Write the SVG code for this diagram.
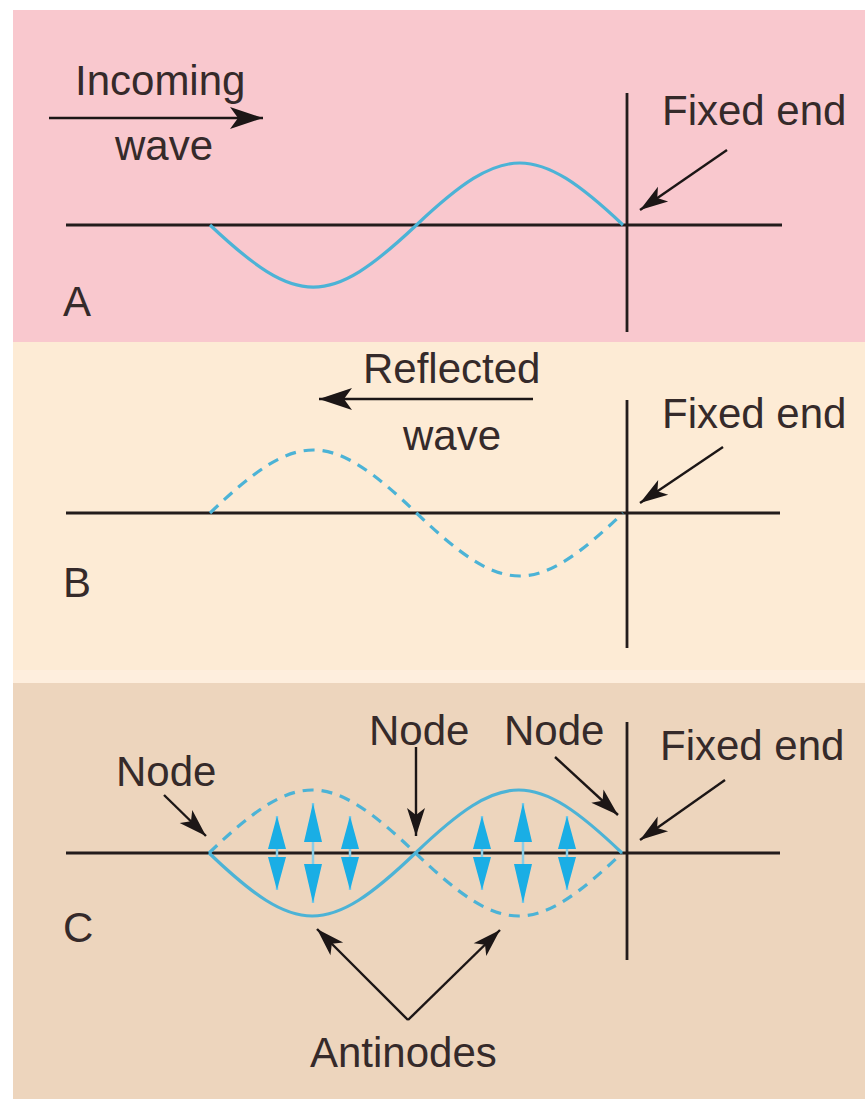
<svg xmlns="http://www.w3.org/2000/svg" width="865" height="1099" viewBox="0 0 865 1099">
<style>
text{font-family:"Liberation Sans",Arial,sans-serif;font-size:42px;fill:#352a2a}
.ax{stroke:#231c1c;stroke-width:2.8;fill:none}
.ar{stroke:#1c1616;stroke-width:2.4;fill:none}
.big{marker-end:url(#hb)}
.sm{marker-end:url(#hs)}
.wv{stroke:#4cb3d6;stroke-width:3.2;fill:none}
.dash{stroke-dasharray:11 8}
.bh{fill:#1aaee5}
.bs{stroke:#86cde9;stroke-width:2.5}
</style>
<defs>
<marker id="hb" markerUnits="userSpaceOnUse" viewBox="-34 -12 36 24" markerWidth="36" markerHeight="24" refX="0" refY="0" orient="auto">
<path d="M0,0 L-33,-11 L-25,0 L-33,11 Z" fill="#1c1616"/>
</marker>
<marker id="hs" markerUnits="userSpaceOnUse" viewBox="-30 -10 32 20" markerWidth="32" markerHeight="20" refX="0" refY="0" orient="auto">
<path d="M0,0 L-28,-9 L-21,0 L-28,9 Z" fill="#1c1616"/>
</marker>
</defs>

<g id="backgrounds">
<rect x="13" y="10" width="852" height="332" fill="#f9c8ce"/>
<rect x="13" y="342" width="852" height="341" fill="#fdebd5"/>
<rect x="13" y="670" width="852" height="13" fill="#feeedd"/>
<rect x="13" y="683" width="852" height="416" fill="#edd5bd"/>
</g>

<g id="panel-A">
<line class="ax" x1="66" y1="225" x2="782" y2="225"/>
<line class="ax" x1="627" y1="93" x2="627" y2="332"/>
<path id="wave-A" class="wv" d="M210,225 C297.6,307.7 328.9,307.7 416.5,225 C504.1,142.3 535.4,142.3 623,225"/>
<text x="75" y="95">Incoming</text>
<text x="115" y="160">wave</text>
<text x="662" y="125">Fixed end</text>
<text x="63" y="316">A</text>
</g>

<g id="panel-B">
<line class="ax" x1="66" y1="513" x2="780" y2="513"/>
<line class="ax" x1="627" y1="400" x2="627" y2="648"/>
<path id="wave-B" class="wv dash" d="M210,513 C297.6,429 328.9,429 416.5,513 C504.1,597 535.4,597 623,513"/>
<text x="363" y="383">Reflected</text>
<text x="403" y="450">wave</text>
<text x="662" y="428">Fixed end</text>
<text x="63" y="597">B</text>
</g>

<g id="panel-C">
<line class="ax" x1="66" y1="853" x2="780" y2="853"/>
<line class="ax" x1="627" y1="722" x2="627" y2="960"/>
<path id="wave-C-solid" class="wv" d="M209,853 C296.6,937 327.9,937 415.5,853 C503.1,769 534.4,769 622,853"/>
<path id="wave-C-dashed" class="wv dash" d="M209,853 C296.6,769 327.9,769 415.5,853 C503.1,937 534.4,937 622,853"/>
<g id="motion-arrows">
<line class="bs" x1="277" y1="816" x2="277" y2="890"/>
<polygon class="bh" points="277,816 268,849 286,849"/>
<polygon class="bh" points="277,890 268,857 286,857"/>
<line class="bs" x1="313" y1="803" x2="313" y2="903"/>
<polygon class="bh" points="313,803 304,842 322,842"/>
<polygon class="bh" points="313,903 304,864 322,864"/>
<line class="bs" x1="350" y1="816" x2="350" y2="890"/>
<polygon class="bh" points="350,816 341,849 359,849"/>
<polygon class="bh" points="350,890 341,857 359,857"/>
<line class="bs" x1="482" y1="816" x2="482" y2="890"/>
<polygon class="bh" points="482,816 473,849 491,849"/>
<polygon class="bh" points="482,890 473,857 491,857"/>
<line class="bs" x1="523" y1="803" x2="523" y2="903"/>
<polygon class="bh" points="523,803 514,842 532,842"/>
<polygon class="bh" points="523,903 514,864 532,864"/>
<line class="bs" x1="567" y1="816" x2="567" y2="890"/>
<polygon class="bh" points="567,816 558,849 576,849"/>
<polygon class="bh" points="567,890 558,857 576,857"/>
</g>
<text x="116" y="786">Node</text>
<text x="369" y="745">Node</text>
<text x="504" y="745">Node</text>
<text x="660" y="760">Fixed end</text>
<text x="63" y="942">C</text>
<text x="310" y="1067">Antinodes</text>
</g>

<g id="connectors">
<line class="ar big" x1="49" y1="118" x2="263" y2="118"/>
<line class="ar big" x1="533" y1="399" x2="319" y2="399"/>
<line class="ar sm" x1="727" y1="150" x2="640" y2="210"/>
<line class="ar sm" x1="723" y1="447" x2="640" y2="503"/>
<line class="ar sm" x1="725" y1="780" x2="640" y2="840"/>
<line class="ar sm" x1="164" y1="795" x2="206" y2="836"/>
<line class="ar sm" x1="416" y1="747" x2="416" y2="836"/>
<line class="ar sm" x1="555" y1="757" x2="618" y2="815"/>
<line class="ar sm" x1="408" y1="1020" x2="317" y2="929"/>
<line class="ar sm" x1="408" y1="1020" x2="500" y2="930"/>
</g>
</svg>
